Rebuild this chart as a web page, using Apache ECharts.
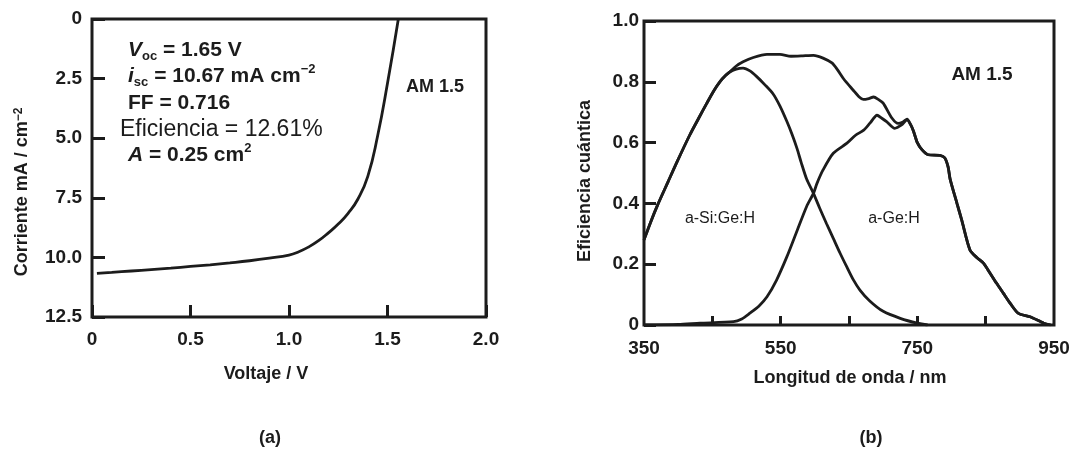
<!DOCTYPE html>
<html>
<head>
<meta charset="utf-8">
<script src="https://cdn.jsdelivr.net/npm/echarts@6/dist/echarts.min.js"></script>
<style>
  html, body { margin: 0; padding: 0; background: #ffffff; }
  #chart { width: 1078px; height: 457px; }
</style>
</head>
<body>
<div id="chart"></div>
<script>
// ---- (a) current density vs. voltage under AM 1.5 ----
const ivVoltage = [0.025, 0.1, 0.2, 0.3, 0.4, 0.5, 0.6, 0.7, 0.8, 0.9, 1.0, 1.05, 1.1, 1.15, 1.2, 1.25, 1.3, 1.35, 1.4, 1.45, 1.5, 1.555];
const ivCurrent = [10.67, 10.63, 10.57, 10.51, 10.45, 10.38, 10.31, 10.23, 10.14, 10.03, 9.9, 9.76, 9.56, 9.3, 8.97, 8.6, 8.15, 7.55, 6.6, 4.9, 2.7, 0];
const ivVoltageTickLabels = ['0', '0.5', '1.0', '1.5', '2.0'];
const ivCurrentTickLabels = ['0', '2.5', '5.0', '7.5', '10.0', '12.5'];

// ---- (b) quantum efficiency of the tandem cell and its two sub-cells ----
const qeTotalWavelength = [350, 360, 370, 385, 398, 417, 430, 442, 452, 461, 470, 476, 485, 495, 510, 530, 549, 565, 580, 598, 612, 625, 633, 642, 656, 665, 671, 679, 686, 693, 700, 713, 722, 729, 735, 740, 744, 750, 757, 766, 783, 790, 795, 798, 808, 815, 827, 837, 847, 856, 866, 876, 886, 898, 915, 935, 945];
const qeTotal = [0.28, 0.34, 0.395, 0.47, 0.535, 0.625, 0.68, 0.73, 0.77, 0.8, 0.822, 0.833, 0.852, 0.866, 0.88, 0.89, 0.89, 0.884, 0.885, 0.887, 0.878, 0.862, 0.84, 0.81, 0.773, 0.75, 0.742, 0.745, 0.75, 0.742, 0.73, 0.68, 0.663, 0.668, 0.677, 0.66, 0.64, 0.6, 0.576, 0.56, 0.558, 0.55, 0.52, 0.48, 0.4, 0.345, 0.247, 0.222, 0.203, 0.172, 0.137, 0.104, 0.071, 0.038, 0.027, 0.006, 0];

const qeTopWavelength = [350, 360, 370, 385, 398, 417, 430, 442, 452, 461, 470, 476, 485, 495, 505, 515, 527, 539, 549, 559, 567, 574, 580, 588, 598, 607, 617, 627, 637, 647, 656, 666, 680, 700, 725, 750, 765];
const qeTop = [0.28, 0.34, 0.395, 0.47, 0.535, 0.625, 0.68, 0.73, 0.77, 0.8, 0.822, 0.833, 0.842, 0.845, 0.836, 0.817, 0.79, 0.76, 0.72, 0.67, 0.625, 0.58, 0.535, 0.48, 0.433, 0.385, 0.334, 0.285, 0.236, 0.19, 0.15, 0.115, 0.08, 0.045, 0.022, 0.006, 0];

const qeBottomWavelength = [350, 400, 432, 481, 493, 505, 518, 530, 544, 559, 574, 588, 598, 603, 612, 627, 647, 660, 671, 681, 691, 698, 705, 717, 727, 735, 740, 744, 750, 757, 766, 783, 790, 795, 798, 808, 815, 827, 837, 847, 856, 866, 876, 886, 898, 915, 935, 945];
const qeBottom = [0, 0.002, 0.006, 0.011, 0.02, 0.039, 0.062, 0.093, 0.148, 0.224, 0.31, 0.39, 0.433, 0.465, 0.51, 0.565, 0.598, 0.625, 0.64, 0.665, 0.69, 0.68, 0.669, 0.647, 0.658, 0.675, 0.66, 0.64, 0.6, 0.576, 0.56, 0.558, 0.55, 0.52, 0.48, 0.4, 0.345, 0.247, 0.222, 0.203, 0.172, 0.137, 0.104, 0.071, 0.038, 0.027, 0.006, 0];

const qeWavelengthLabelValues = [350, 550, 750, 950];
const qeWavelengthTickValues = [450, 550, 650, 750, 850];
const qeEfficiencyTickLabels = ['0', '0.2', '0.4', '0.6', '0.8', '1.0'];

const pairs = (xs, ys) => xs.map((x, i) => [x, ys[i]]);

const INK = '#1c1c1c';
const FONT = '"Liberation Sans", Arial, Helvetica, sans-serif';

const tickLabelStyle = { color: INK, fontFamily: FONT, fontSize: 19, fontWeight: 'bold' };
const curveStyle = { color: INK, width: 2.8 };

function bold(size) { return { fontFamily: FONT, fontSize: size, fontWeight: 'bold', fill: INK }; }

const chart = echarts.init(document.getElementById('chart'), null, { renderer: 'canvas' });

chart.setOption({
  backgroundColor: '#ffffff',
  animation: false,
  grid: [
    { left: 92, top: 19, width: 394, height: 298, show: true, borderColor: INK, borderWidth: 3, backgroundColor: 'transparent', containLabel: false, outerBoundsMode: 'none' },
    { left: 644, top: 21, width: 410, height: 304, show: true, borderColor: INK, borderWidth: 3, backgroundColor: 'transparent', containLabel: false, outerBoundsMode: 'none' }
  ],
  xAxis: [
    {
      gridIndex: 0, type: 'value', min: 0, max: 2, interval: 0.5, position: 'bottom',
      axisLine: { show: false, onZero: false },
      axisTick: { show: true, inside: true, length: 12, lineStyle: { color: INK, width: 3 } },
      axisLabel: { ...tickLabelStyle, margin: 13, formatter: (v, i) => ivVoltageTickLabels[i] },
      splitLine: { show: false }
    },
    {
      gridIndex: 1, type: 'value', min: 350, max: 950, position: 'bottom',
      axisLine: { show: false, onZero: false },
      axisTick: { show: true, inside: true, length: 9, lineStyle: { color: INK, width: 3 }, customValues: qeWavelengthTickValues },
      axisLabel: { ...tickLabelStyle, margin: 14, customValues: qeWavelengthLabelValues, formatter: (v) => String(v) },
      splitLine: { show: false }
    }
  ],
  yAxis: [
    {
      gridIndex: 0, type: 'value', min: 0, max: 12.5, interval: 2.5, inverse: true, position: 'left',
      axisLine: { show: false, onZero: false },
      axisTick: { show: true, inside: true, length: 13, lineStyle: { color: INK, width: 3 } },
      axisLabel: { ...tickLabelStyle, margin: 10, formatter: (v, i) => ivCurrentTickLabels[i] },
      splitLine: { show: false }
    },
    {
      gridIndex: 1, type: 'value', min: 0, max: 1, interval: 0.2, position: 'left',
      axisLine: { show: false, onZero: false },
      axisTick: { show: true, inside: true, length: 12, lineStyle: { color: INK, width: 3 } },
      axisLabel: { ...tickLabelStyle, margin: 5, formatter: (v, i) => qeEfficiencyTickLabels[i] },
      splitLine: { show: false }
    }
  ],
  series: [
    {
      name: 'J-V', type: 'line', xAxisIndex: 0, yAxisIndex: 0,
      data: pairs(ivVoltage, ivCurrent), smooth: 0.5, showSymbol: false, lineStyle: curveStyle
    },
    {
      name: 'Total', type: 'line', xAxisIndex: 1, yAxisIndex: 1,
      data: pairs(qeTotalWavelength, qeTotal), smooth: 0.25, showSymbol: false, lineStyle: curveStyle
    },
    {
      name: 'a-Si:Ge:H', type: 'line', xAxisIndex: 1, yAxisIndex: 1,
      data: pairs(qeTopWavelength, qeTop), smooth: 0.25, showSymbol: false, lineStyle: curveStyle
    },
    {
      name: 'a-Ge:H', type: 'line', xAxisIndex: 1, yAxisIndex: 1,
      data: pairs(qeBottomWavelength, qeBottom), smooth: 0.25, showSymbol: false, lineStyle: curveStyle
    }
  ],
  graphic: [
    // cell parameters
    {
      type: 'text', x: 128, y: 50,
      style: {
        text: '{it|V}{sub|oc} = 1.65 V', ...bold(21), align: 'left', verticalAlign: 'middle',
        rich: {
          it: { ...bold(21), fontStyle: 'italic', lineHeight: 26 },
          sub: { ...bold(13), lineHeight: 14, verticalAlign: 'bottom' }
        }
      }
    },
    {
      type: 'text', x: 128, y: 76,
      style: {
        text: '{it|i}{sub|sc} = 10.67 mA cm{sup|−2}', ...bold(21), align: 'left', verticalAlign: 'middle',
        rich: {
          it: { ...bold(21), fontStyle: 'italic', lineHeight: 26 },
          sub: { ...bold(13), lineHeight: 14, verticalAlign: 'bottom' },
          sup: { ...bold(13), lineHeight: 14, verticalAlign: 'top' }
        }
      }
    },
    {
      type: 'text', x: 128, y: 103,
      style: { text: 'FF = 0.716', ...bold(21), align: 'left', verticalAlign: 'middle' }
    },
    {
      type: 'text', x: 120, y: 130,
      style: { text: 'Eficiencia = 12.61%', fontFamily: FONT, fontSize: 23, fontWeight: 'normal', fill: INK, align: 'left', verticalAlign: 'middle' }
    },
    {
      type: 'text', x: 128, y: 155,
      style: {
        text: '{it|A} = 0.25 cm{sup|2}', ...bold(21), align: 'left', verticalAlign: 'middle',
        rich: {
          it: { ...bold(21), fontStyle: 'italic', lineHeight: 26 },
          sup: { ...bold(13), lineHeight: 14, verticalAlign: 'top' }
        }
      }
    },
    { type: 'text', x: 435, y: 87, style: { text: 'AM 1.5', ...bold(18), align: 'center', verticalAlign: 'middle' } },
    { type: 'text', x: 982, y: 75, style: { text: 'AM 1.5', ...bold(19), align: 'center', verticalAlign: 'middle' } },
    { type: 'text', x: 720, y: 219, style: { text: 'a-Si:Ge:H', fontFamily: FONT, fontSize: 16, fill: INK, align: 'center', verticalAlign: 'middle' } },
    { type: 'text', x: 894, y: 219, style: { text: 'a-Ge:H', fontFamily: FONT, fontSize: 16, fill: INK, align: 'center', verticalAlign: 'middle' } },
    // axis titles
    { type: 'text', x: 266, y: 374, style: { text: 'Voltaje / V', ...bold(18), align: 'center', verticalAlign: 'middle' } },
    { type: 'text', x: 850, y: 378, style: { text: 'Longitud de onda / nm', ...bold(18), align: 'center', verticalAlign: 'middle' } },
    {
      type: 'text', x: 22, y: 192, rotation: Math.PI / 2,
      style: {
        text: 'Corriente mA / cm{sup|−2}', ...bold(18), align: 'center', verticalAlign: 'middle',
        rich: { sup: { ...bold(12), lineHeight: 13, verticalAlign: 'top' } }
      }
    },
    { type: 'text', x: 585, y: 181, rotation: Math.PI / 2, style: { text: 'Eficiencia cuántica', ...bold(18), align: 'center', verticalAlign: 'middle' } },
    // panel captions
    { type: 'text', x: 270, y: 438, style: { text: '(a)', ...bold(18), align: 'center', verticalAlign: 'middle' } },
    { type: 'text', x: 871, y: 438, style: { text: '(b)', ...bold(18), align: 'center', verticalAlign: 'middle' } }
  ]
});
</script>
</body>
</html>
